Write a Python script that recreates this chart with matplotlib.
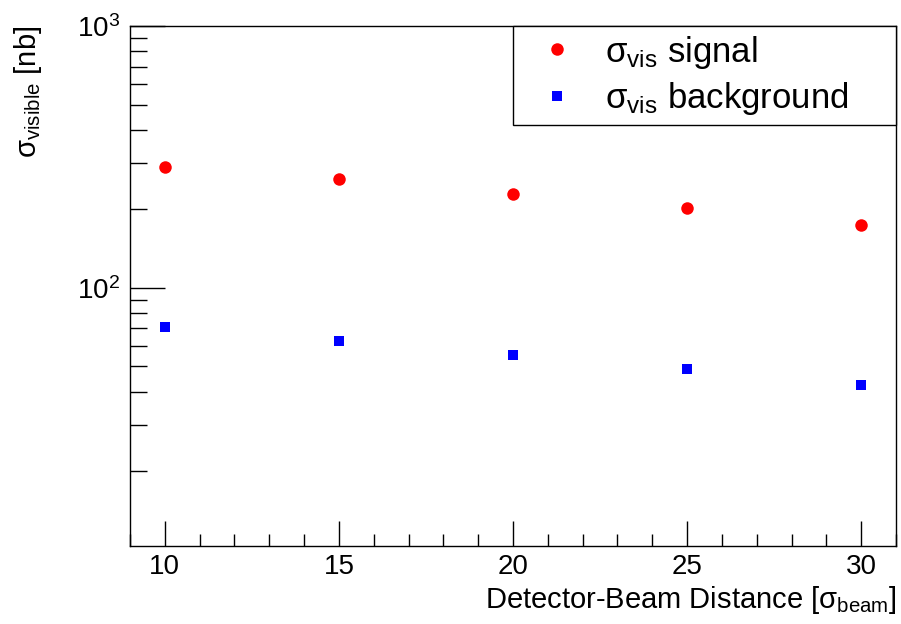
import numpy as np
import matplotlib
matplotlib.use('Agg')
import matplotlib.pyplot as plt
from matplotlib.ticker import FixedLocator, NullFormatter, MultipleLocator

# values
distance = [10, 15, 20, 25, 30]
sigma_signal = [289, 260, 229, 202, 174]
sigma_background = [70.6, 62.8, 55.4, 49.0, 42.5]

plt.rcParams['font.family'] = ['Liberation Sans', 'DejaVu Sans']
plt.rcParams['mathtext.fontset'] = 'custom'
plt.rcParams['mathtext.rm'] = 'Liberation Sans'
plt.rcParams['mathtext.it'] = 'Liberation Sans:italic'
plt.rcParams['mathtext.sf'] = 'Liberation Sans'

fig = plt.figure(figsize=(9.01, 6.24), dpi=100)
ax = fig.add_axes([130 / 901, 1 - 546 / 624, 766 / 901, 520 / 624])

ax.plot(distance, sigma_signal, 'o', color='#ff0000', markersize=9, markeredgewidth=0,
        label='σ$_{\\rm vis}$ signal')
ax.plot(distance, sigma_background, 's', color='#0000ff', markersize=7.5, markeredgewidth=0,
        label='σ$_{\\rm vis}$ background')

ax.set_yscale('log')
ax.set_xlim(9, 31)
ax.set_ylim(10.3, 1000)

ax.yaxis.set_major_locator(FixedLocator([100, 1000]))
ax.yaxis.set_minor_locator(FixedLocator([20, 30, 40, 50, 60, 70, 80, 90,
                                         200, 300, 400, 500, 600, 700, 800, 900]))
ax.yaxis.set_minor_formatter(NullFormatter())
ax.set_yticklabels([r'$10^{2}$', r'$10^{3}$'])
ax.xaxis.set_major_locator(MultipleLocator(5))
ax.xaxis.set_minor_locator(MultipleLocator(1))

ax.tick_params(axis='both', which='both', direction='in', top=False, right=False, width=1)
ax.tick_params(axis='y', which='major', length=25, labelsize=20, pad=7)
ax.tick_params(axis='y', which='minor', length=12)
ax.tick_params(axis='x', which='major', length=18, labelsize=20, pad=6)
ax.tick_params(axis='x', which='minor', length=9)
for s in ax.spines.values():
    s.set_linewidth(1)

ax.set_xlabel('Detector-Beam Distance [σ$_{\\rm beam}$]', fontsize=21, loc='right')
ax.xaxis.set_label_coords(1.0, -0.073)
ax.set_ylabel('σ$_{\\rm visible}$ [nb]', fontsize=21, loc='top')
ax.yaxis.set_label_coords(-0.112, 1.0)

leg = ax.legend(loc='upper left', bbox_to_anchor=(0.5, 0.0, 0.5, 1.0), mode='expand',
                fontsize=25, frameon=True, fancybox=False, edgecolor='black', framealpha=1,
                borderaxespad=0, borderpad=0.22, labelspacing=0.27, handletextpad=0.33,
                handlelength=2.1)
leg.get_frame().set_linewidth(1)

fig.savefig('out.png', dpi=100)
